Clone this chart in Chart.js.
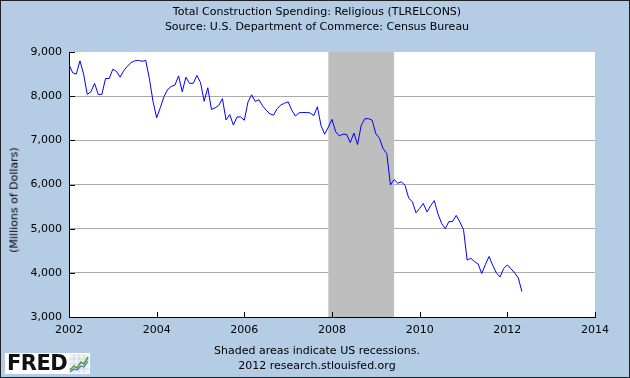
<!DOCTYPE html>
<html>
<head>
<meta charset="utf-8">
<script src="https://cdn.jsdelivr.net/npm/chart.js@4.4.1/dist/chart.umd.min.js"></script>
<style>
html,body{margin:0;padding:0;background:#fff;}
#wrap{position:relative;width:630px;height:378px;background:#b4cce4;overflow:hidden;font-family:"DejaVu Sans",sans-serif;color:#000;}
#c{position:absolute;left:0;top:0;}
.t{position:absolute;left:0;width:634px;text-align:center;font-size:11px;line-height:13px;white-space:nowrap;}
#ytitle{position:absolute;left:14px;top:200px;transform:translate(-50%,-50%) rotate(-90deg);font-size:11px;line-height:13px;white-space:nowrap;}
#frame{position:absolute;left:0;top:0;width:630px;height:378px;box-sizing:border-box;border:1px solid #222;pointer-events:none;}
#logo{position:absolute;left:5px;top:353px;width:85px;height:21px;background:#fff;}
#logo span{position:absolute;left:2px;top:-3px;font-family:"DejaVu Sans",sans-serif;font-weight:bold;font-size:21px;line-height:26px;letter-spacing:-0.5px;color:#111;}
#logo svg{position:absolute;left:64px;top:1px;}
</style>
</head>
<body>
<div id="wrap">
  <canvas id="c" width="630" height="378"></canvas>
  <div class="t" style="top:5px">Total Construction Spending: Religious (TLRELCONS)</div>
  <div class="t" style="top:20px">Source: U.S. Department of Commerce: Census Bureau</div>
  <div id="ytitle">(Millions of Dollars)</div>
  <div class="t" style="top:344px">Shaded areas indicate US recessions.</div>
  <div class="t" style="top:359px">2012 research.stlouisfed.org</div>
  <div id="logo"><span>FRED</span>
    <svg width="20" height="19" viewBox="0 0 20 19">
      <rect x="0" y="0" width="20" height="19" fill="#eef2f4"/>
      <path d="M0 5H20M0 10H20M0 15H20M5 0V19M10 0V19M15 0V19" stroke="#cfd8dc" stroke-width="1"/>
      <polyline points="1,16 5,12 8,14 12,8 15,10 19,3" fill="none" stroke="#5a9e3a" stroke-width="1.6"/>
      <polyline points="1,18 5,15 8,16 12,12 15,13 19,7" fill="none" stroke="#4a78b8" stroke-width="1.2"/>
    </svg>
  </div>
  <div id="frame"></div>
</div>
<script>
// Monthly data, Jan 2002 onward (millions of dollars)
const startYear = 2002;
const values = [
  8720, 8530, 8500, 8800, 8500, 8040, 8100, 8290, 8040, 8040, 8400, 8400,   // 2002
  8610, 8560, 8430, 8580, 8680, 8760, 8800, 8810, 8790, 8810, 8400, 7880,   // 2003
  7510, 7740, 7990, 8150, 8220, 8250, 8460, 8100, 8430, 8290, 8290, 8470,   // 2004
  8310, 7885, 8190, 7700, 7735, 7790, 7945, 7460, 7585, 7345, 7530, 7530,   // 2005
  7455, 7870, 8030, 7880, 7920, 7780, 7680, 7600, 7570, 7720, 7800, 7840,   // 2006
  7870, 7680, 7550, 7625, 7630, 7630, 7620, 7560, 7760, 7330, 7140, 7300,   // 2007
  7475, 7195, 7100, 7140, 7135, 6950, 7165, 6905, 7340, 7490, 7490, 7455,   // 2008
  7150, 7045, 6810, 6700, 5990, 6110, 6030, 6060, 5980, 5690, 5610, 5360,   // 2009
  5460, 5570, 5380, 5520, 5635, 5335, 5120, 5000, 5160, 5160, 5300, 5150,   // 2010
  4980, 4290, 4330, 4255, 4200, 3985, 4190, 4370, 4170, 4000, 3905, 4095,   // 2011
  4180, 4090, 4000, 3885, 3575                                              // 2012
];
const recession = [2007 + 11/12, 2009 + 5/12]; // Dec 2007 - Jun 2009
const xTicks = [2002, 2004, 2006, 2008, 2010, 2012, 2014];
const yTicks = [3000, 4000, 5000, 6000, 7000, 8000, 9000];

const points = values.map((v, i) => ({ x: startYear + i / 12, y: v }));

const fredPlugin = {
  id: 'fredPlugin',
  beforeDraw(chart) {
    const { ctx, chartArea: a } = chart;
    ctx.save();
    ctx.fillStyle = '#ffffff';
    ctx.fillRect(a.left, a.top, a.right - a.left, a.bottom - a.top);
    ctx.restore();
  },
  beforeDatasetsDraw(chart) {
    const { ctx, chartArea: a, scales: { x } } = chart;
    const x0 = x.getPixelForValue(recession[0]);
    const x1 = x.getPixelForValue(recession[1]);
    ctx.save();
    ctx.fillStyle = '#bebebe';
    ctx.fillRect(x0, a.top, x1 - x0, a.bottom - a.top);
    ctx.restore();
  },
  afterDatasetsDraw(chart) {
    const { ctx, chartArea: a, scales: { x, y } } = chart;
    ctx.save();
    ctx.strokeStyle = '#000';
    ctx.lineWidth = 1;
    ctx.beginPath();
    x.ticks.forEach(t => {
      const px = Math.round(x.getPixelForValue(t.value)) + 0.5;
      ctx.moveTo(px, a.bottom);
      ctx.lineTo(px, a.bottom - 5);
    });
    y.ticks.forEach(t => {
      const py = Math.round(y.getPixelForValue(t.value)) + 0.5;
      ctx.moveTo(a.left, py);
      ctx.lineTo(a.left + 6, py);
    });
    ctx.stroke();
    ctx.restore();
  }
};

new Chart(document.getElementById('c'), {
  type: 'line',
  data: {
    datasets: [{
      data: points,
      borderColor: '#0000ff',
      borderWidth: 1,
      pointRadius: 0,
      tension: 0,
      fill: false
    }]
  },
  options: {
    responsive: false,
    animation: false,
    devicePixelRatio: 1,
    layout: { padding: { top: 52, right: 35, left: 0, bottom: 0 } },
    plugins: { legend: { display: false }, tooltip: { enabled: false }, title: { display: false } },
    scales: {
      x: {
        type: 'linear',
        min: 2002, max: 2014,
        afterBuildTicks: s => { s.ticks = xTicks.map(v => ({ value: v })); },
        afterFit: s => { s.height = 61; },
        ticks: {
          callback: v => String(v),
          font: { family: 'DejaVu Sans', size: 11 },
          color: '#000',
          padding: 7,
          maxRotation: 0,
          autoSkip: false
        },
        grid: { display: false, drawTicks: false },
        border: { display: true, color: '#000', width: 1 }
      },
      y: {
        type: 'linear',
        min: 3000, max: 9000,
        afterBuildTicks: s => { s.ticks = yTicks.map(v => ({ value: v })); },
        afterFit: s => { s.width = 69; },
        ticks: {
          callback: v => Number(v).toLocaleString('en-US'),
          font: { family: 'DejaVu Sans', size: 11 },
          color: '#000',
          padding: 7
        },
        grid: {
          drawTicks: false,
          color: c => (c.tick && (c.tick.value === 3000 || c.tick.value === 9000)) ? 'rgba(0,0,0,0)' : '#aaaaaa'
        },
        border: { display: true, color: '#000', width: 1 }
      }
    }
  },
  plugins: [fredPlugin]
});
</script>
</body>
</html>
